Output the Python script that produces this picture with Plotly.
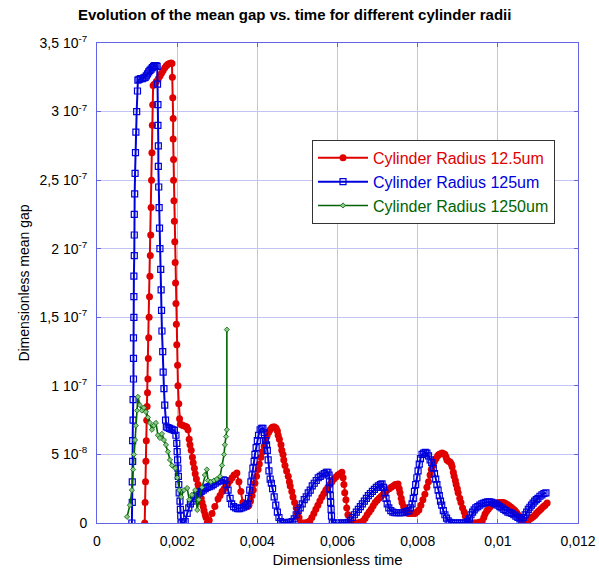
import plotly.graph_objects as go

# ---- data: (dimensionless time, mean gap in units of 1e-8) ----
red_points = [
    (.00119,0),(.00120,1.5),(.00121,3),(.00122,4.5),(.00123,6),(.00124,7.5),(.00125,8.5),(.00126,9.5),(.00127,10.5),
    (.00128,12),(.00129,13.5),(.00130,15),(.00131,16.5),(.00132,18),(.00133,19.5),(.00134,21),(.00135,23),(.00136,25),
    (.00137,27),(.00138,29),(.00139,30.5),(.00140,31.9),
    (.00143,32.0),(.00148,32.2),(.00153,32.4),(.00157,32.6),(.00161,32.8),(.00165,33.0),(.00169,33.2),(.00173,33.35),
    (.00177,33.45),(.00181,33.5),(.00185,33.55),(.00187,33.5),
    (.00188,32.5),(.00189,31),(.00190,29.5),(.00190,28),(.00191,26.5),(.00191,25),(.00192,23.5),(.00193,22),(.00194,20.5),
    (.00195,19),(.00196,17.5),(.00197,16),(.00198,14.5),(.00199,13),(.00201,11.5),(.00202,10),(.00204,8.7),(.00206,7.6),
    (.00208,7.2),(.00212,7.15),(.00216,7.1),(.00220,7.05),(.00224,7.0),(.00227,6.8),(.00230,6.1),(.00232,5.7),(.00235,5.3),
    (.00238,4.8),(.00240,4.4),(.00243,4.0),(.00245,3.6),(.00248,3.2),(.00252,2.8),(.00255,2.5),(.00257,2.2),(.00260,1.8),
    (.00262,1.5),(.00265,1.2),(.00267,0.9),(.00270,0.6),(.00272,0.4),(.00275,0),
    (.00280,0.2),(.00287,0.7),(.00294,1.2),(.00302,1.75),(.00307,2.0),(.00312,2.3),(.00317,2.5),(.00322,2.7),(.00327,2.9),
    (.00332,3.1),(.00337,3.3),(.00342,3.5),(.00349,3.65),(.00354,3.0),(.00359,2.3),(.00364,1.5),(.00368,1.3),(.00372,1.2),
    (.00376,1.2),(.00379,1.3),(.00383,1.6),(.00387,2.0),(.00390,2.4),(.00394,2.9),(.00398,3.4),(.00402,3.9),(.00405,4.3),
    (.00409,4.8),(.00413,5.2),(.00417,5.6),(.00420,6.0),(.00424,6.3),(.00428,6.6),(.00432,6.8),(.00436,6.95),(.00439,7.0),
    (.00443,7.0),(.00447,6.9),(.00450,6.7),(.00452,6.4),(.00455,6.1),(.00459,5.7),(.00461,5.3),(.00464,5.0),(.00466,4.6),
    (.00469,4.2),(.00473,3.8),(.00477,3.4),(.00480,3.0),(.00482,2.7),(.00486,2.3),(.00489,1.9),(.00493,1.5),(.00497,1.1),
    (.00500,0.7),(.00504,0.4),(.00509,0),(.00514,0),(.00519,0),(.00525,0.05),
    (.00531,0.15),(.00536,0.4),(.00541,0.7),(.00546,1.0),(.00551,1.3),(.00556,1.6),(.00561,1.9),(.00566,2.15),(.00571,2.4),
    (.00576,2.6),(.00581,2.8),(.00586,3.0),(.00591,3.2),(.00596,3.35),(.00601,3.5),(.00606,3.6),(.00611,3.7),(.00614,3.3),
    (.00616,2.8),(.00618,2.2),(.00621,1.7),(.00623,1.1),(.00626,0.6),(.00631,0),(.00636,0),(.00641,0),(.00646,0),(.00651,0),
    (.00657,0.05),(.00664,0.15),(.00669,0.35),(.00674,0.6),(.00679,0.8),(.00684,1.0),(.00689,1.25),(.00694,1.5),(.00699,1.65),
    (.00704,1.8),(.00709,1.95),(.00714,2.1),(.00719,2.25),(.00724,2.4),(.00729,2.5),(.00734,2.6),(.00739,2.7),(.00744,2.8),
    (.00751,2.85),(.00754,2.5),(.00756,2.2),(.00759,1.8),(.00761,1.5),(.00765,1.2),(.00768,0.95),(.00773,0.8),(.00777,0.7),
    (.00781,0.7),(.00786,0.7),(.00793,0.7),(.00798,0.8),(.00803,0.95),(.00808,1.3),(.00813,1.7),(.00818,2.1),(.00823,2.6),
    (.00827,3.0),(.00831,3.5),(.00834,3.9),(.00838,4.2),(.00842,4.5),(.00846,4.7),(.00850,4.9),(.00853,5.0),(.00857,5.05),
    (.00861,5.1),(.00865,5.05),(.00868,5.0),(.00871,4.8),(.00873,4.6),(.00877,4.5),(.00881,4.45),(.00884,4.3),(.00886,4.1),
    (.00889,3.7),(.00891,3.4),(.00894,3.1),(.00896,2.8),(.00899,2.5),(.00901,2.2),(.00905,1.8),(.00908,1.5),(.00912,1.1),
    (.00916,0.8),(.00919,0.5),(.00923,0.2),(.00928,0),(.00933,0),(.00938,0),(.00942,0),(.00946,0),(.00953,0.05),
    (.00961,0.15),(.00965,0.4),(.00968,0.65),(.00972,0.85),(.00976,1.0),(.00980,1.15),(.00983,1.25),(.00987,1.35),
    (.00991,1.4),(.00995,1.43),(.00998,1.45),(.01002,1.48),(.01005,1.5),(.01009,1.5),(.01013,1.5),(.01017,1.45),
    (.01020,1.4),(.01024,1.33),(.01028,1.25),(.01032,1.17),(.01035,1.1),(.01039,1.0),(.01043,0.9),(.01047,0.75),
    (.01050,0.6),(.01054,0.45),(.01058,0.3),(.01062,0.15),(.01065,0.07),(.01069,0.1),(.01073,0.15),(.01077,0.22),
    (.01080,0.3),(.01084,0.37),(.01088,0.45),(.01092,0.55),(.01095,0.65),(.01099,0.78),(.01103,0.9),(.01107,1.0),
    (.01110,1.1),(.01114,1.2),(.01118,1.3),(.01123,1.45),
]

blue_points = [
    (.00087,0),(.00088,1.5),(.00088,3),(.00089,4.5),(.00089,6),(.00090,7.5),(.00090,9),(.00091,10.5),(.00091,12),
    (.00091,13.5),(.00092,15),(.00092,16.5),(.00092,18),(.00093,19.5),(.00093,21),(.00093,22.5),(.00094,24),(.00095,25.5),
    (.00096,27),(.00097,28.5),(.00099,30),(.00101,31.5),(.00102,32.3),
    (.00105,32.35),(.00109,32.4),(.00113,32.4),(.00117,32.45),(.00120,32.5),(.00123,32.6),(.00126,32.75),(.00129,32.9),
    (.00132,33.0),(.00135,33.1),(.00138,33.2),(.00141,33.3),(.00144,33.35),(.00147,33.35),(.00150,33.3),
    (.00151,32),(.00152,30.5),(.00152,29),(.00153,27.5),(.00153,26),(.00154,24.5),(.00155,23),(.00156,21.5),(.00157,20),
    (.00159,18.5),(.00160,17),(.00161,15.5),(.00162,14),(.00164,12.5),(.00165,11),(.00167,9.8),(.00169,8.6),(.00171,7.5),
    (.00173,7.0),(.00177,6.95),(.00181,6.9),(.00185,6.85),(.00189,6.8),(.00193,6.75),(.00197,6.4),(.00199,5.8),(.00200,5.2),
    (.00201,4.6),(.00202,4.0),(.00203,3.4),(.00204,2.8),(.00205,2.2),(.00207,1.6),(.00208,1.0),(.00209,0.5),(.00210,0),
    (.00215,0),(.00220,0.1),(.00225,0.7),(.00229,1.1),(.00233,1.4),(.00237,1.6),(.00241,1.8),(.00245,1.95),(.00250,2.1),
    (.00255,2.2),(.00260,2.3),(.00265,2.4),(.00270,2.5),(.00275,2.6),(.00280,2.65),(.00285,2.7),(.00290,2.8),(.00295,2.9),
    (.00300,3.0),(.00305,3.05),(.00310,3.1),(.00315,3.15),(.00319,3.1),(.00323,2.8),(.00327,2.4),(.00332,1.8),(.00336,1.4),
    (.00341,1.2),(.00346,1.1),(.00351,1.05),(.00356,1.05),(.00361,1.1),(.00366,1.15),(.00371,1.25),(.00375,1.4),(.00378,1.8),
    (.00381,2.4),(.00384,3.0),(.00387,3.5),(.00389,4.0),(.00392,4.5),(.00394,5.0),(.00397,5.5),(.00400,6.0),(.00403,6.4),
    (.00407,6.8),(.00411,6.9),(.00414,6.9),(.00417,6.6),(.00420,6.0),(.00423,5.7),(.00425,5.3),(.00427,4.6),(.00429,3.8),
    (.00432,3.2),(.00435,2.9),(.00438,2.5),(.00442,1.9),(.00446,1.3),(.00450,0.8),(.00454,0.4),(.00458,0.1),(.00462,0),
    (.00467,0),(.00472,0),(.00477,0.05),(.00482,0.05),(.00487,0.1),(.00492,0.3),(.00497,0.6),(.00502,0.9),(.00507,1.1),
    (.00512,1.4),(.00517,1.7),(.00522,1.9),(.00527,2.2),(.00532,2.4),(.00537,2.7),(.00542,2.9),(.00547,3.1),(.00552,3.3),
    (.00557,3.4),(.00562,3.5),(.00567,3.6),(.00572,3.7),(.00576,3.7),(.00579,3.5),(.00580,3.0),(.00581,2.5),(.00582,2.0),
    (.00583,1.5),(.00584,1.0),(.00585,0.5),(.00587,0),
    (.00592,0),(.00597,0),(.00602,0),(.00607,0),(.00612,0),(.00617,0),(.00622,0),(.00627,0.05),(.00632,0.2),(.00637,0.4),
    (.00642,0.6),(.00647,0.8),(.00652,1.0),(.00657,1.2),(.00662,1.4),(.00667,1.6),(.00672,1.8),(.00677,2.0),(.00682,2.15),
    (.00687,2.3),(.00692,2.45),(.00697,2.6),(.00702,2.7),(.00707,2.8),(.00711,2.85),(.00715,2.6),(.00718,2.2),(.00721,1.8),
    (.00724,1.4),(.00728,1.1),(.00733,0.9),(.00738,0.8),(.00743,0.75),(.00748,0.75),(.00753,0.75),(.00758,0.75),(.00763,0.75),
    (.00768,0.8),(.00773,0.85),(.00778,0.9),(.00782,1.1),(.00786,1.4),(.00789,1.8),(.00792,2.3),(.00795,2.8),(.00798,3.3),
    (.00801,3.8),(.00804,4.3),(.00807,4.7),(.00811,5.0),(.00815,5.1),(.00819,5.15),(.00823,5.1),(.00827,4.9),(.00831,4.6),
    (.00835,4.4),(.00839,4.0),(.00842,3.6),(.00845,3.2),(.00848,2.8),(.00851,2.4),(.00854,2.0),(.00857,1.6),(.00860,1.3),
    (.00864,0.9),(.00868,0.6),(.00872,0.35),(.00876,0.15),(.00880,0.05),(.00885,0),
    (.00890,0),(.00895,0),(.00900,0),(.00905,0),(.00910,0),(.00915,0),(.00920,0),(.00925,0.1),(.00929,0.3),(.00933,0.6),
    (.00937,0.8),(.00941,0.95),(.00945,1.1),(.00950,1.2),(.00955,1.3),(.00960,1.4),(.00965,1.45),(.00970,1.5),(.00975,1.55),
    (.00980,1.55),(.00985,1.5),(.00990,1.45),(.00995,1.4),(.01000,1.3),(.01005,1.2),(.01010,1.1),(.01015,1.0),(.01020,0.9),
    (.01025,0.8),(.01030,0.75),(.01035,0.7),(.01040,0.6),(.01045,0.5),(.01050,0.4),(.01055,0.3),(.01060,0.2),(.01064,0.4),
    (.01068,0.6),(.01072,0.8),(.01076,1.0),(.01080,1.15),(.01084,1.3),(.01088,1.45),(.01092,1.6),(.01096,1.7),(.01100,1.8),
    (.01105,1.95),(.01110,2.05),(.01115,2.15),(.01120,2.2),
]

green_points = [
    (.00075,0.45),(.00082,1.3),(.00087,2.4),(.00090,3.9),(.00092,5.0),(.00095,6.05),(.00097,7.1),(.00100,8.2),(.00102,9.2),
    (.00107,8.6),(.00112,8.2),(.00117,8.4),(.00122,8.1),(.00127,7.7),(.00132,7.3),(.00137,6.8),(.00142,7.1),(.00147,7.3),
    (.00152,6.4),(.00157,6.2),(.00162,6.5),(.00167,6.05),(.00172,5.7),(.00177,5.2),(.00182,4.6),(.00187,4.2),(.00195,4.0),
    (.00200,3.3),(.00205,2.4),(.00210,1.9),(.00217,2.4),(.00225,2.55),(.00230,1.7),(.00237,2.05),(.00245,2.4),(.00250,0.95),
    (.00254,1.7),(.00262,2.6),(.00269,3.5),(.00274,3.9),(.00277,3.1),(.00284,3.0),(.00292,3.1),(.00299,3.2),(.00307,3.4),
    (.00312,4.2),(.00317,5.0),(.00319,5.7),(.00322,6.3),(.00324,6.8),(.00324,14.1),
]

series_names = ["Cylinder Radius 12.5um", "Cylinder Radius 125um", "Cylinder Radius 1250um"]
series_colors = ["#e00000", "#0000dd", "#006400"]

y_tick_values = [0, 5e-8, 1e-7, 1.5e-7, 2e-7, 2.5e-7, 3e-7, 3.5e-7]
y_tick_labels = ["0", "5 10<sup>-8</sup>", "1 10<sup>-7</sup>", "1,5 10<sup>-7</sup>", "2 10<sup>-7</sup>",
                 "2,5 10<sup>-7</sup>", "3 10<sup>-7</sup>", "3,5 10<sup>-7</sup>"]
x_tick_values = [0, 0.002, 0.004, 0.006, 0.008, 0.010, 0.012]
x_tick_labels = ["0", "0,002", "0,004", "0,006", "0,008", "0,01", "0,012"]

SCALE = 1e-8

def unzip(points):
    return [p[0] for p in points], [p[1] * SCALE for p in points]

fig = go.Figure()

rx, ry = unzip(red_points)
fig.add_trace(go.Scatter(
    x=rx, y=ry, mode="lines+markers",
    name=f"<span style='color:{series_colors[0]}'>{series_names[0]}</span>",
    line=dict(color=series_colors[0], width=2),
    marker=dict(symbol="circle", size=7, color=series_colors[0], line=dict(width=0)),
))
bx, by = unzip(blue_points)
fig.add_trace(go.Scatter(
    x=bx, y=by, mode="lines+markers",
    name=f"<span style='color:{series_colors[1]}'>{series_names[1]}</span>",
    line=dict(color=series_colors[1], width=2),
    marker=dict(symbol="square-open", size=6, color=series_colors[1], line=dict(width=1.2)),
))
gx, gy = unzip(green_points)
fig.add_trace(go.Scatter(
    x=gx, y=gy, mode="lines+markers",
    name=f"<span style='color:{series_colors[2]}'>{series_names[2]}</span>",
    line=dict(color=series_colors[2], width=1.6),
    marker=dict(symbol="diamond", size=4, color="#8cc88c", line=dict(color=series_colors[2], width=0.8)),
))

frame = "#6464e6"
grid = "#c4c4f2"
font_family = "Arial, Liberation Sans, sans-serif"

fig.update_layout(
    width=599, height=573,
    margin=dict(l=97, r=21, t=43, b=50, autoexpand=False),
    paper_bgcolor="white", plot_bgcolor="white",
    font=dict(family=font_family, color="black", size=14),
    title=dict(text="<b>Evolution of the mean gap vs. time for different cylinder radii</b>",
               x=0.492, xref="container", xanchor="center",
               y=1 - 15 / 573, yref="container", yanchor="middle",
               font=dict(size=15, family=font_family, color="black")),
    showlegend=True,
    legend=dict(x=0.447, y=0.798, xanchor="left", yanchor="top",
                bgcolor="white", bordercolor="#333333", borderwidth=1,
                font=dict(size=16, family=font_family), tracegroupgap=0,
                itemwidth=50),
)
fig.update_xaxes(
    range=[0, 0.012], tickvals=x_tick_values, ticktext=x_tick_labels,
    showgrid=True, gridcolor=grid, gridwidth=1,
    showline=True, linecolor=frame, linewidth=1, mirror="ticks",
    ticks="inside", ticklen=4, tickcolor=frame,
    zeroline=False, ticklabelstandoff=5, automargin=False,
    title=dict(text="Dimensionless time", font=dict(size=15), standoff=6),
    tickfont=dict(size=14),
)
fig.update_yaxes(
    range=[0, 3.5e-7], tickvals=y_tick_values, ticktext=y_tick_labels,
    showgrid=True, gridcolor=grid, gridwidth=1,
    showline=True, linecolor=frame, linewidth=1, mirror="ticks",
    ticks="inside", ticklen=4, tickcolor=frame,
    zeroline=False, ticklabelstandoff=6, automargin=False,
    title=dict(text="Dimensionless mean gap", font=dict(size=14), standoff=6),
    tickfont=dict(size=14),
)

fig.write_html("out.html", config={"displayModeBar": False},
               post_script="document.body.style.margin='0';")
